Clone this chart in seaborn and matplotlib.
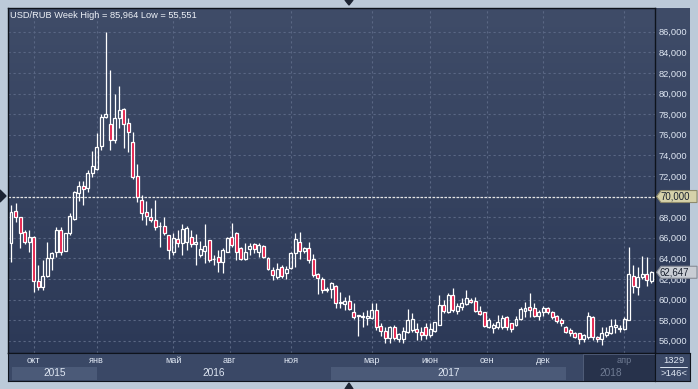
import matplotlib
matplotlib.use("Agg")
import matplotlib.pyplot as plt
from matplotlib.colors import LinearSegmentedColormap
from matplotlib.patches import Rectangle, Polygon
import numpy as np
import seaborn as sns

# weekly USD/RUB candles
opens = [65.45, 68.59, 67.98, 66.52, 65.55, 66.10, 61.83, 61.18, 62.28, 63.99,
         64.64, 66.75, 64.74, 66.42, 67.80, 70.38, 71.02, 70.80, 72.25, 72.64,
         74.90, 77.75, 77.04, 75.49, 77.59, 78.47, 77.10, 75.33, 72.00, 69.66,
         68.47, 67.98, 67.72, 67.10, 67.14, 66.26, 64.64, 65.84, 65.52, 65.61,
         66.10, 65.36, 64.32, 64.74, 65.78, 63.93, 64.10, 63.67, 64.64, 66.04,
         66.42, 64.97, 63.90, 64.87, 65.39, 64.64, 65.19, 64.00, 62.86, 62.22,
         63.12, 62.54, 63.03, 64.48, 65.61, 64.74, 64.97, 63.90, 62.48, 61.96,
         60.99, 60.99, 61.31, 59.70, 59.56, 59.89, 58.82, 58.40, 58.33, 58.18,
         58.18, 58.98, 57.43, 56.94, 56.23, 57.37, 56.14, 56.14, 56.88, 57.04,
         57.14, 56.88, 57.37, 56.56, 56.98, 57.53, 59.47, 58.82, 60.44, 58.92,
         59.31, 59.57, 59.95, 59.86, 58.92, 58.82, 57.37, 57.20, 57.37, 57.30,
         58.27, 57.69, 57.53, 58.08, 58.92, 59.24, 59.15, 58.40, 58.82, 59.15,
         58.82, 58.40, 58.01, 57.30, 57.04, 56.78, 56.72, 56.14, 56.39, 58.33,
         56.39, 56.14, 56.56, 56.78, 57.30, 57.11, 57.10, 58.01, 62.28, 61.18,
         62.15, 62.47, 61.83]
highs = [69.17, 69.34, 68.04, 66.75, 66.75, 66.16, 63.35, 63.83, 65.61, 64.64,
         67.07, 67.01, 66.49, 68.36, 70.50, 71.51, 71.51, 72.58, 74.40, 76.14,
         78.00, 85.964, 82.29, 79.95, 80.73, 78.56, 77.59, 76.30, 73.20, 70.15,
         69.57, 68.85, 69.66, 67.56, 68.04, 66.26, 66.42, 66.75, 67.33, 67.14,
         66.75, 66.36, 65.71, 67.33, 65.78, 64.32, 64.80, 64.97, 66.10, 67.46,
         66.59, 65.13, 65.45, 65.45, 65.52, 65.45, 65.29, 64.16, 63.12, 63.51,
         63.35, 63.25, 64.60, 66.42, 66.52, 65.06, 65.62, 64.42, 62.60, 62.22,
         61.25, 61.73, 61.41, 60.76, 60.28, 60.44, 59.70, 58.50, 58.82, 58.98,
         59.70, 59.70, 57.69, 57.37, 57.43, 57.53, 56.72, 57.37, 59.05, 58.66,
         57.69, 57.30, 57.69, 57.69, 57.85, 60.44, 59.95, 60.67, 61.09, 59.63,
         60.12, 60.92, 60.12, 60.28, 59.37, 58.82, 58.18, 57.76, 58.50, 58.50,
         58.40, 57.76, 58.40, 59.31, 59.80, 60.67, 59.63, 58.98, 59.37, 59.30,
         58.92, 58.50, 58.18, 57.43, 57.20, 56.88, 56.78, 56.65, 58.82, 58.40,
         56.46, 57.30, 57.37, 58.08, 58.08, 57.53, 58.27, 65.07, 63.35, 63.12,
         64.22, 64.09, 62.80]
lows = [63.67, 67.56, 64.97, 65.39, 64.64, 60.76, 60.92, 60.92, 62.15, 62.86,
        64.16, 64.32, 64.74, 66.30, 67.70, 69.60, 69.18, 70.47, 71.87, 72.60,
        74.50, 77.60, 74.52, 75.17, 76.62, 74.68, 74.36, 71.74, 69.50, 67.72,
        67.24, 67.56, 66.75, 65.13, 66.26, 63.90, 64.32, 65.13, 64.32, 64.80,
        65.13, 63.35, 64.16, 63.51, 63.67, 63.35, 62.70, 62.60, 64.64, 65.13,
        63.84, 63.84, 63.84, 64.32, 64.48, 64.16, 64.00, 62.86, 61.90, 61.96,
        62.06, 61.96, 63.00, 63.12, 63.90, 64.55, 63.51, 62.22, 60.54, 60.60,
        60.73, 60.12, 59.14, 59.14, 58.98, 58.98, 58.08, 56.46, 57.37, 57.53,
        58.08, 57.04, 56.46, 55.81, 55.81, 56.07, 55.91, 55.75, 56.78, 56.88,
        56.07, 56.07, 56.14, 56.39, 56.88, 57.53, 58.66, 58.66, 58.82, 58.60,
        58.98, 59.47, 59.70, 58.82, 58.50, 57.30, 57.20, 56.78, 57.10, 57.10,
        57.04, 56.88, 57.43, 58.01, 58.33, 58.27, 58.27, 58.01, 58.40, 58.60,
        58.08, 57.69, 57.43, 56.72, 56.46, 56.23, 55.70, 55.91, 56.14, 56.07,
        55.91, 55.551, 56.39, 56.65, 56.78, 56.88, 57.04, 58.01, 60.60, 60.44,
        62.02, 61.31, 61.57]
closes = [68.53, 68.04, 66.42, 65.55, 66.10, 61.83, 61.25, 62.28, 63.99, 64.48,
          66.75, 64.64, 66.42, 68.11, 70.40, 71.02, 70.70, 72.25, 73.00, 74.84,
          77.69, 77.98, 75.49, 77.59, 78.40, 77.04, 76.30, 71.87, 70.00, 68.37,
          68.14, 67.72, 67.07, 67.14, 66.49, 64.80, 65.94, 65.45, 66.81, 66.91,
          65.39, 65.58, 64.87, 65.19, 63.84, 63.90, 63.67, 64.80, 65.94, 65.29,
          64.64, 63.90, 64.64, 65.19, 64.87, 65.29, 64.10, 62.93, 62.38, 62.93,
          62.31, 62.93, 64.55, 65.84, 64.74, 64.97, 63.84, 62.38, 62.06, 60.92,
          60.92, 61.57, 59.63, 59.75, 59.89, 59.05, 58.27, 58.42, 58.40, 58.40,
          58.98, 57.37, 56.94, 56.23, 57.37, 56.23, 56.62, 56.94, 58.01, 58.08,
          56.88, 56.56, 56.56, 57.11, 57.85, 59.47, 58.92, 60.44, 58.98, 59.37,
          59.63, 60.12, 59.80, 58.92, 58.60, 57.43, 58.01, 57.53, 57.85, 58.18,
          57.30, 57.10, 58.08, 59.05, 59.15, 58.98, 58.40, 58.82, 59.15, 58.82,
          58.27, 57.95, 57.69, 56.88, 56.72, 56.39, 56.14, 56.56, 58.40, 56.33,
          56.14, 56.78, 56.88, 57.43, 57.53, 57.20, 58.08, 62.47, 61.31, 62.15,
          62.47, 61.90, 62.647]

month_pos = [5, 19, 36, 48.5, 62, 80, 93, 105.5, 118, 136]
month_labels = ["окт", "янв", "май", "авг", "ноя", "мар", "июн", "сен", "дек", "апр"]
year_edges = [0.2, 19, 71, 123, 143]
year_labels = ["2015", "2016", "2017", "2018"]
y_ticks = [56, 58, 60, 62, 64, 66, 68, 70, 72, 74, 76, 78, 80, 82, 84, 86]
ref_level = 70.0
bar_count, bar_range = "1329", ">146<"
title = "USD/RUB Week High = 85,964 Low = 55,551"

sns.set_style("dark")
plt.rcParams["font.family"] = ["Liberation Sans", "DejaVu Sans"]

W, H = 698, 389
fig = plt.figure(figsize=(W / 100, H / 100), dpi=100)
fig.patch.set_facecolor("#bccad9")


def box(x0, y0, x1, y1):
    # pixel box (top-left origin) -> figure fraction rect
    return [x0 / W, 1 - y1 / H, (x1 - x0) / W, (y1 - y0) / H]


bg = LinearSegmentedColormap.from_list("bg", ["#3f4c68", "#2c3957"])
grad = np.linspace(0, 1, 256).reshape(-1, 1)
txt = "#dfe7f3"
dim = "#6f7b93"
grid_kw = dict(color="#5a6784", lw=0.8, dashes=(2, 2.5))

xlim = (-0.665, 142.83)
ylim = (54.81, 88.30)
live_start = 126.9  # darker "current" panel in the time band

# right price scale panel (drawn first so the tick labels sit on top)
axr = fig.add_axes(box(655, 8, 690, 353))
axr.imshow(grad, cmap=bg, aspect="auto", extent=[0, 1, 0, 1])
axr.set_axis_off()

ax = fig.add_axes(box(8, 8, 655, 353))
ax.patch.set_alpha(0)
ax.imshow(grad, cmap=bg, aspect="auto", extent=[*xlim, *ylim], zorder=0)
ax.set_xlim(*xlim)
ax.set_ylim(*ylim)

for v in y_ticks:
    ax.axhline(v, zorder=1, **grid_kw)
for p in month_pos:
    ax.axvline(p, zorder=1, **grid_kw)
ax.axhline(ref_level, color="#e4e4e4", lw=0.9, dashes=(2, 1.2), zorder=2)

x = np.arange(len(closes))
o = np.array(opens)
c = np.array(closes)
top = np.maximum(o, c)
bot = np.minimum(o, c)
up = c >= o

ax.vlines(x, top, highs, color="white", lw=0.9, zorder=3)
ax.vlines(x, lows, bot, color="white", lw=0.9, zorder=3)
hgt = np.maximum(top - bot, 0.06)
ax.bar(x[up], hgt[up], bottom=bot[up], width=0.66, facecolor="none",
       edgecolor="white", lw=0.9, zorder=4)
ax.bar(x[~up], hgt[~up], bottom=bot[~up], width=0.66, facecolor="#e3123f",
       edgecolor="white", lw=0.9, zorder=4)

ax.yaxis.tick_right()
ax.set_yticks(y_ticks)
# the 70 label sits under the reference-level flag
ax.set_yticklabels(["" if v == ref_level else f"{v:.3f}".replace(".", ",") for v in y_ticks])
ax.set_xticks([])
ax.tick_params(axis="y", length=0, pad=2.5, labelsize=6.7, labelcolor=txt)
for s in ax.spines.values():
    s.set_color("#0e131c")
    s.set_linewidth(1.0)

# price flags on the right scale
ppu = 345 / (ylim[1] - ylim[0])


def flag(val, face, edge):
    h = 6 / ppu
    a, b, e = 1 + 1.5 / 647, 1 + 6 / 647, 1 + 42 / 647
    pts = [(a, val), (b, val + h), (e, val + h), (e, val - h), (b, val - h)]
    tr = ax.get_yaxis_transform()
    ax.add_patch(Polygon(pts, closed=True, transform=tr, facecolor=face,
                         edgecolor=edge, lw=0.8, clip_on=False, zorder=6))
    ax.text(1 + 5 / 647, val, f"{val:.3f}".replace(".", ","), transform=tr,
            ha="left", va="center", fontsize=6.9, color="#18202e", zorder=7, clip_on=False)


flag(ref_level, "#d6d2aa", "#8f8b6c")
flag(closes[-1], "#c9cdd4", "#878c96")

# bottom time band
axb = fig.add_axes(box(8, 353, 655, 381))
axb.set_xlim(*xlim)
axb.set_ylim(0, 1)
axb.set_facecolor("#3a4866")
axb.set_xticks([])
axb.set_yticks([])
for s in axb.spines.values():
    s.set_color("#0e131c")
for k, lab in enumerate(year_labels):
    x0, x1 = year_edges[k], year_edges[k + 1]
    if k % 2 == 0:
        axb.add_patch(Rectangle((x0, 0.04), x1 - x0, 0.46, facecolor="#4b5a78", lw=0, zorder=1))
    xc = (x0 + min(x1, xlim[1])) / 2
    axb.text(xc, 0.27, lab, ha="center", va="center", fontsize=7.3,
             color=dim if xc > live_start else txt, zorder=3)
axb.add_patch(Rectangle((live_start, 0), xlim[1] - live_start, 0.97, facecolor="#27324b",
                        edgecolor="#56637e", lw=0.6, zorder=2))
for p, lab in zip(month_pos, month_labels):
    axb.text(p, 0.72, lab, ha="center", va="center", fontsize=6.6,
             color=dim if p > live_start else txt, zorder=3)

# corner box
axc = fig.add_axes(box(655, 353, 690, 381))
axc.set_facecolor("#3a4866")
axc.set_xlim(0, 1)
axc.set_ylim(0, 1)
axc.set_xticks([])
axc.set_yticks([])
for s in axc.spines.values():
    s.set_color("#0e131c")
axc.text(0.55, 0.74, bar_count, ha="center", va="center", fontsize=6.8, color=txt)
axc.text(0.55, 0.26, bar_range, ha="center", va="center", fontsize=6.8, color=txt)
axc.plot([0.15, 0.92], [0.5, 0.5], color=txt, lw=0.7)

fig.text(10 / W, 1 - 15 / H, title, ha="left", va="center", fontsize=6.7, color="#eef2f8")

# little navigation markers on the frame
mk = "#1c2433"
fig.add_artist(Polygon([(345 / W, 1), (353 / W, 1), (349 / W, 1 - 5 / H)],
                       closed=True, transform=fig.transFigure, color=mk))
fig.add_artist(Polygon([(345 / W, 0), (353 / W, 0), (349 / W, 6 / H)],
                       closed=True, transform=fig.transFigure, color=mk))
fig.add_artist(Polygon([(0, 1 - 190 / H), (0, 1 - 202 / H), (6 / W, 1 - 196 / H)],
                       closed=True, transform=fig.transFigure, color=mk))

fig.savefig("out.png", dpi=100, facecolor=fig.get_facecolor())
